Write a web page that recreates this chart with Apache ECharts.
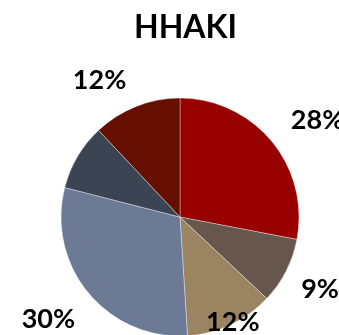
<!DOCTYPE html>
<html><head><meta charset="utf-8">
<script src="https://cdn.jsdelivr.net/npm/echarts@6/dist/echarts.min.js"></script>
<style>html,body{margin:0;padding:0;background:#fff;}#c{width:339px;height:335px;}</style>
</head><body><div id="c"></div>
<script>
var title = 'HHAKI';
var categories = ['A', 'B', 'C', 'D', 'E', 'F'];
var values = [28, 9, 12, 30, 9, 12];
var showLabel = [true, true, true, true, false, true];
var colors = ['#990000', '#66564C', '#9A8461', '#6C7A96', '#3A4452', '#660E00'];
var labelShift = [[8, -16], [3, 15], [-33, -10], [-2, 21], [0, 0], [-2, -19]];

var chart = echarts.init(document.getElementById('c'), null, {renderer: 'canvas'});
chart.setOption({
  animation: false,
  title: {
    text: title, left: 129, top: 7,
    textStyle: {fontFamily: 'Lato', fontWeight: 'bold', fontSize: 32, color: '#000'}
  },
  color: colors,
  series: [{
    type: 'pie',
    center: ['53.1%', '64.8%'],
    radius: 119,
    startAngle: 90,
    clockwise: true,
    avoidLabelOverlap: false,
    itemStyle: {borderColor: 'rgba(255,255,255,0.6)', borderWidth: 0.6},
    label: {
      show: true, position: 'outside',
      formatter: function (p) { return p.value + '%'; },
      fontFamily: 'Lato', fontWeight: 'bold', fontSize: 27, color: '#000'
    },
    labelLine: {show: false, length: 8, length2: 0},
    labelLayout: function (p) {
      var s = labelShift[p.dataIndex];
      return {dx: s[0], dy: s[1]};
    },
    data: categories.map(function (c, i) {
      return {name: c, value: values[i], label: {show: showLabel[i]}};
    })
  }]
});
</script></body></html>
